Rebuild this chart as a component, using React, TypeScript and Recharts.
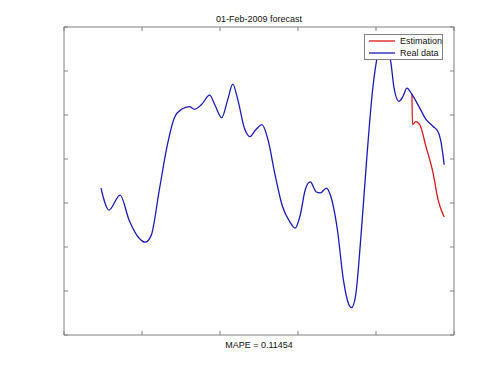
import { LineChart, Line, XAxis, YAxis } from 'recharts'

// real load curve (hours, normalised units)
const realHours = [
  4.74, 5.77, 7.19, 8.35, 9.64, 10.41, 11.19, 12.22, 13.25, 14.15, 15.06, 16.09,
  16.74, 17.64, 18.67, 19.32, 20.22, 20.99, 21.64, 22.28, 23.19, 23.83, 24.61,
  25.38, 26.15, 27.06, 27.96, 28.99, 29.64, 30.28, 30.93, 31.57, 32.35, 32.86,
  33.64, 34.15, 35.06, 35.83, 36.48, 36.86, 37.38, 38.03, 38.8, 39.57, 40.22,
  40.86, 41.51, 41.9, 42.28, 42.93, 43.45, 43.96, 44.61, 45.51, 46.41, 47.32,
  47.96, 48.35, 48.74,
]
const realValues = [
  3.34, 2.84, 3.18, 2.61, 2.2, 2.11, 2.27, 3.3, 4.32, 4.94, 5.13, 5.19, 5.13,
  5.24, 5.45, 5.24, 4.94, 5.35, 5.7, 5.35, 4.67, 4.51, 4.67, 4.78, 4.44, 3.64,
  2.95, 2.56, 2.43, 2.72, 3.3, 3.48, 3.25, 3.23, 3.34, 3.18, 2.38, 1.24, 0.71,
  0.62, 0.89, 2.15, 3.98, 5.58, 6.38, 6.73, 6.45, 6.2, 5.65, 5.31, 5.42, 5.61,
  5.47, 5.19, 4.9, 4.74, 4.62, 4.37, 3.87,
]

// forecast from the branch point on
const estHours = [44.61, 44.67, 45.1, 45.61, 46.41, 47.32, 47.96, 48.74]
const estValues = [5.47, 4.78, 4.85, 4.78, 4.28, 3.68, 3.07, 2.68]

const xTicks = [0, 10, 20, 30, 40, 50]
const yTicks = [0, 1, 2, 3, 4, 5, 6, 7]

const realData = realHours.map((h, i) => ({ h, v: realValues[i] }))
const estData = estHours.map((h, i) => ({ h, v: estValues[i] }))

const AXIS = '#808080'
const RED = '#d81818'
const BLUE = '#1a1ab8'
const noLabel = () => <g />

const textStyle = {
  position: 'absolute' as const,
  left: 65,
  width: 388,
  textAlign: 'center' as const,
  fontSize: 9,
  lineHeight: '10px',
}

export default function App() {
  return (
    <div
      style={{
        position: 'relative',
        width: 500,
        height: 375,
        background: '#fff',
        fontFamily: '"Liberation Sans", Arial, sans-serif',
        color: '#111',
      }}
    >
      <style>{'body{margin:0}'}</style>
      <div style={{ ...textStyle, top: 14 }}>01-Feb-2009 forecast</div>
      <LineChart
        width={500}
        height={375}
        margin={{ top: 27, right: 46, bottom: 40, left: 64 }}
      >
        <XAxis
          dataKey="h"
          type="number"
          domain={[0, 50]}
          ticks={xTicks}
          height={1}
          mirror
          tick={noLabel}
          tickSize={4}
          stroke={AXIS}
          allowDataOverflow
        />
        <XAxis
          xAxisId="top"
          orientation="top"
          dataKey="h"
          type="number"
          domain={[0, 50]}
          ticks={xTicks}
          height={1}
          mirror
          tick={noLabel}
          tickSize={4}
          stroke={AXIS}
          allowDataOverflow
        />
        <YAxis
          type="number"
          domain={[0, 7]}
          ticks={yTicks}
          width={1}
          mirror
          tick={noLabel}
          tickSize={4}
          stroke={AXIS}
          allowDataOverflow
        />
        <YAxis
          yAxisId="right"
          orientation="right"
          type="number"
          domain={[0, 7]}
          ticks={yTicks}
          width={1}
          mirror
          tick={noLabel}
          tickSize={4}
          stroke={AXIS}
          allowDataOverflow
        />
        <Line
          data={estData}
          dataKey="v"
          type="monotone"
          stroke={RED}
          strokeWidth={1.3}
          dot={false}
          isAnimationActive={false}
        />
        <Line
          data={realData}
          dataKey="v"
          type="monotone"
          stroke={BLUE}
          strokeWidth={1.3}
          dot={false}
          isAnimationActive={false}
        />
      </LineChart>
      <div style={{ ...textStyle, top: 340 }}>MAPE = 0.11454</div>
      {/* legend box, top right like matlab */}
      <div
        style={{
          position: 'absolute',
          left: 364,
          top: 34,
          width: 79,
          height: 26,
          boxSizing: 'border-box',
          background: '#fff',
          border: `1px solid ${AXIS}`,
          fontSize: 9,
          whiteSpace: 'nowrap',
        }}
      >
        {[
          { name: 'Estimation', color: RED },
          { name: 'Real data', color: BLUE },
        ].map((d, i) => (
          <div
            key={d.name}
            style={{ position: 'absolute', left: 4, top: 1 + i * 11.5, height: 10, display: 'flex', alignItems: 'center' }}
          >
            <svg width={26} height={4} style={{ display: 'block' }}>
              <line x1={0} x2={26} y1={2} y2={2} stroke={d.color} strokeWidth={1.3} />
            </svg>
            <span style={{ marginLeft: 5, lineHeight: '10px' }}>{d.name}</span>
          </div>
        ))}
      </div>
    </div>
  )
}
